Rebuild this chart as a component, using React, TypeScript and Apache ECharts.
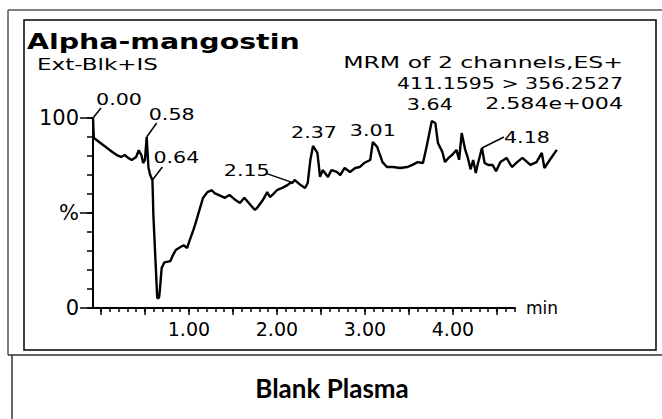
import React, { useEffect, useRef } from "react";
import * as echarts from "echarts";

// ---------- data (time in min, intensity in %) ----------
const times = [
  -0.09, -0.08, -0.02, 0.07, 0.13, 0.18, 0.23, 0.27, 0.31, 0.35, 0.4, 0.43, 0.46, 0.48, 0.5, 0.52, 0.54, 0.56, 0.585, 0.59,
  0.596, 0.62, 0.64, 0.66, 0.67, 0.69, 0.72, 0.79, 0.82, 0.85, 0.9, 0.94, 0.98, 1.01, 1.05, 1.08, 1.12, 1.16, 1.21,
  1.26, 1.29, 1.36, 1.41, 1.46, 1.53, 1.58, 1.63, 1.7, 1.75, 1.78, 1.84, 1.89, 1.92, 1.97, 2.0, 2.06, 2.12, 2.15, 2.18,
  2.2, 2.27, 2.32, 2.35, 2.38, 2.41, 2.46, 2.49, 2.52, 2.58, 2.62, 2.68, 2.72, 2.77, 2.83, 2.89, 2.94, 2.99, 3.06, 3.09,
  3.14, 3.2, 3.25, 3.32, 3.4, 3.48, 3.54, 3.6, 3.66, 3.7, 3.76, 3.8, 3.83, 3.88, 3.91, 3.95, 3.99, 4.04, 4.07, 4.1,
  4.14, 4.17, 4.2, 4.23, 4.26, 4.28, 4.33, 4.36, 4.4, 4.45, 4.49, 4.54, 4.61, 4.67, 4.73, 4.79, 4.88, 4.95, 5.01, 5.04,
  5.1, 5.18,
];
const intensity = [
  100, 89.5, 87.4, 84.2, 82.1, 80.5, 79.5, 80.5, 79.0, 77.9, 79.5, 83.0, 80.5, 76.3, 77.9, 90.0, 74.0, 70.0, 67.4, 60,
  49, 25, 5.3, 5.3, 9.5, 21, 24, 24.7, 28, 30.5, 32, 33, 31.6, 35.8, 41, 45.3, 51.6, 57.9, 61,
  62, 60.5, 59, 58, 59.5, 56.8, 55.3, 58, 54.2, 51.6, 53, 56.8, 61, 58.4, 60.5, 62, 63.2, 64.7, 65.8, 66,
  67.4, 64.7, 63.2, 65.8, 77.9, 85.3, 81.6, 69, 72.6, 69, 72.6, 71.6, 70, 73.7, 71.6, 73.7, 74.2, 76.3, 77.9, 87.4,
  84.7, 76.8, 74.2, 74.2, 73.7, 74.2, 75.3, 76.8, 76.3, 84.7, 98.4, 97.4, 86.8, 82.1, 76.8, 79, 80.5, 83.2, 78, 92.1,
  83.2, 79, 73, 77.9, 71, 75.3, 84.2, 76.3, 75.3, 75.3, 72, 76.8, 79, 74.2, 76.8, 79, 75.3, 76.8, 81.6, 73.7,
  77.9, 83.2,
];
// where each annotated peak sits on the drawn time axis, and its printed retention-time label
const peakPositions = [-0.09, 0.52, 0.585, 2.18, 2.41, 3.09, 3.76, 4.33];
const peakLabels = ["0.00", "0.58", "0.64", "2.15", "2.37", "3.01", "3.64", "4.18"];
const xLabelValues = [1, 2, 3, 4];
const xMajorTicks = [0, 0.5, 1, 1.5, 2, 2.5, 3, 3.5, 4, 4.5];
const xMinorTicks = [
  0, 0.1, 0.2, 0.3, 0.4, 0.5, 0.6, 0.7, 0.8, 0.9, 1, 1.1, 1.2, 1.3, 1.4, 1.5, 1.6, 1.7, 1.8, 1.9, 2, 2.1, 2.2, 2.3, 2.4,
  2.5, 2.6, 2.7, 2.8, 2.9, 3, 3.1, 3.2, 3.3, 3.4, 3.5, 3.6, 3.7, 3.8, 3.9, 4, 4.1, 4.2, 4.3, 4.4, 4.5, 4.6, 4.7,
];
const xMin = -0.09;
const xAxisEnd = 4.705; // where the drawn time axis stops
const xDataEnd = 5.2; // the trace runs on past the end of the drawn axis
const yLabelValues = [0, 50, 100];
const yLabelTexts = ["0", "%", "100"];
const titleText = "Alpha-mangostin";
const functionText = "Ext-Blk+IS";
const channelText = "MRM of 2 channels,ES+";
const transitionText = "411.1595 > 356.2527";
const intensityText = "2.584e+004";
const xUnitText = "min";
const captionText = "Blank Plasma";

// ---------- layout / style ----------
const FONT = '"DejaVu Sans", sans-serif';
const PX_PER_MIN = 88;
const PLOT_LEFT = 93;
const PLOT_TOP = 118;
const PLOT_H = 190;
// label centre offsets (dx, dy) from the peak point and leader end offsets (lx, ly)
const peakLayout = [
  [26, -19, 8, -10],
  [25, -23, 10, -14],
  [24, -23, 10, -13],
  [-46, -12, -26, -9],
  [1, -14, null, null],
  [0, -12, null, null],
  [-2, -17, null, null],
  [45, -11, 22, -11],
];

function textWidth(text: string, size: number, weight = "normal", family = FONT) {
  const ctx = document.createElement("canvas").getContext("2d")!;
  ctx.font = `${weight} ${size}px ${family}`;
  return ctx.measureText(text).width || 1;
}

function wideText(text: string, x: number, y: number, size: number, targetW: number, align: string, weight = "normal") {
  const w = textWidth(text, size, weight);
  return {
    type: "text",
    x,
    y,
    scaleX: targetW / w,
    silent: true,
    style: { text, fontSize: size, fontFamily: FONT, fontWeight: weight, fill: "#000", align, verticalAlign: "middle" },
  };
}

function interp(t: number) {
  for (let i = 0; i < times.length - 1; i++) {
    if (t >= times[i] && t <= times[i + 1]) {
      const f = (t - times[i]) / (times[i + 1] - times[i] || 1);
      return intensity[i] + f * (intensity[i + 1] - intensity[i]);
    }
  }
  return intensity[intensity.length - 1];
}

export default function App() {
  const ref = useRef<HTMLDivElement>(null);
  useEffect(() => {
    const chart = echarts.init(ref.current!, null, { renderer: "svg" });
    const axisColor = "#000";
    const hiddenAxis = {
      axisLine: { show: false, onZero: false },
      axisTick: { show: false },
      axisLabel: { show: false },
      splitLine: { show: false },
    };
    chart.setOption({
      animation: false,
      backgroundColor: "#fff",
      grid: [
        // grid 0: the trace (wide enough to hold the whole run)
        { left: PLOT_LEFT, top: PLOT_TOP, width: (xDataEnd - xMin) * PX_PER_MIN, height: PLOT_H, containLabel: false },
        // grid 1: the drawn axes
        { left: PLOT_LEFT, top: PLOT_TOP, width: (xAxisEnd - xMin) * PX_PER_MIN, height: PLOT_H, containLabel: false },
      ],
      xAxis: [
        { type: "value", gridIndex: 0, min: xMin, max: xDataEnd, ...hiddenAxis },
        {
          type: "value",
          gridIndex: 1,
          position: "bottom",
          min: xMin,
          max: xAxisEnd,
          axisLine: { show: true, onZero: false, lineStyle: { color: axisColor, width: 2 } },
          axisTick: { show: true, length: 4, customValues: xMinorTicks, lineStyle: { color: axisColor, width: 1.5 } },
          axisLabel: { show: false },
          splitLine: { show: false },
          name: xUnitText,
          nameLocation: "end",
          nameGap: 11,
          nameTextStyle: { fontFamily: FONT, fontSize: 17, color: "#000", verticalAlign: "middle", padding: [10, 0, 0, 0] },
        },
        {
          type: "value",
          gridIndex: 1,
          position: "bottom",
          min: xMin,
          max: xAxisEnd,
          axisLine: { show: false, onZero: false },
          axisTick: { show: true, length: 7, customValues: xMajorTicks, lineStyle: { color: axisColor, width: 1.5 } },
          axisLabel: {
            show: true,
            customValues: xLabelValues,
            formatter: (v: number) => v.toFixed(2),
            fontFamily: FONT,
            fontSize: 19,
            color: "#000",
            margin: 11,
          },
          splitLine: { show: false },
        },
      ],
      yAxis: [
        { type: "value", gridIndex: 0, min: 0, max: 100, ...hiddenAxis },
        {
          type: "value",
          gridIndex: 1,
          position: "left",
          min: 0,
          max: 100,
          interval: 10,
          axisLine: { show: true, onZero: false, lineStyle: { color: axisColor, width: 2 } },
          axisTick: { show: true, length: 6, lineStyle: { color: axisColor, width: 1.5 } },
          axisLabel: { show: false },
          splitLine: { show: false },
        },
        {
          type: "value",
          gridIndex: 1,
          position: "left",
          min: 0,
          max: 100,
          axisLine: { show: false, onZero: false },
          axisTick: { show: true, length: 13, customValues: yLabelValues, lineStyle: { color: axisColor, width: 1.5 } },
          axisLabel: {
            show: true,
            customValues: yLabelValues,
            formatter: (v: number) => yLabelTexts[yLabelValues.indexOf(v)] ?? "",
            fontFamily: FONT,
            fontSize: 21,
            color: "#000",
            margin: 14,
          },
          splitLine: { show: false },
        },
      ],
      series: [
        {
          type: "line",
          xAxisIndex: 0,
          yAxisIndex: 0,
          data: times.map((t, i) => [t, intensity[i]]),
          symbol: "none",
          showSymbol: false,
          clip: false,
          silent: true,
          lineStyle: { color: "#000", width: 2.4 },
        },
      ],
    });

    const elements: any[] = [
      // frames
      { type: "line", shape: { x1: 8, y1: 10, x2: 662, y2: 10 }, style: { stroke: "#555", lineWidth: 1.5 } },
      { type: "line", shape: { x1: 8, y1: 10, x2: 8, y2: 355 }, style: { stroke: "#555", lineWidth: 1.5 } },
      { type: "line", shape: { x1: 8, y1: 355, x2: 662, y2: 355 }, style: { stroke: "#333", lineWidth: 1.5 } },
      { type: "line", shape: { x1: 12, y1: 355, x2: 12, y2: 419 }, style: { stroke: "#333", lineWidth: 1.5 } },
      { type: "rect", shape: { x: 24, y: 20, width: 632, height: 330 }, style: { fill: "none", stroke: "#000", lineWidth: 1.5 } },
      // header texts
      wideText(titleText, 27, 41, 22, 273, "left", "bold"),
      wideText(functionText, 37, 65, 15, 121, "left"),
      wideText(channelText, 623, 63, 15, 280, "right"),
      wideText(transitionText, 623, 84, 15, 226, "right"),
      wideText(intensityText, 623, 103, 15, 138, "right"),
      {
        type: "text",
        x: 332,
        y: 388,
        silent: true,
        style: { text: captionText, fontSize: 26, fontFamily: "Lato, sans-serif", fontWeight: "bold", fill: "#000", align: "center", verticalAlign: "middle" },
      },
    ];

    peakPositions.forEach((t, i) => {
      const p = chart.convertToPixel({ xAxisIndex: 0, yAxisIndex: 0 }, [t, interp(t)]) as number[];
      const [dx, dy, lx, ly] = peakLayout[i] as any[];
      elements.push(wideText(peakLabels[i], p[0] + dx, p[1] + dy, 16, 46, "center"));
      if (lx !== null) {
        elements.push({
          type: "line",
          silent: true,
          shape: { x1: p[0], y1: p[1], x2: p[0] + lx, y2: p[1] + ly },
          style: { stroke: "#000", lineWidth: 1.5 },
        });
      }
    });

    chart.setOption({ graphic: { elements } });
    return () => chart.dispose();
  }, []);

  return <div ref={ref} style={{ position: "fixed", left: 0, top: 0, width: 662, height: 419, background: "#fff" }} />;
}
